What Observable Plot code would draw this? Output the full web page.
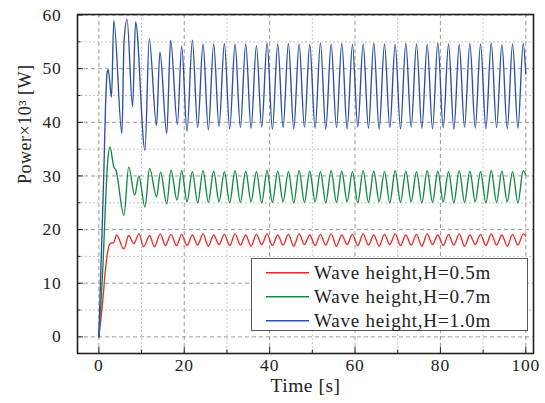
<!DOCTYPE html>
<html><head><meta charset="utf-8">
<script src="https://cdn.jsdelivr.net/npm/d3@7"></script>
<script src="https://cdn.jsdelivr.net/npm/@observablehq/plot@0.6"></script>
<style>
body{margin:0;background:#fff;}
#wrap{position:relative;width:545px;height:403px;font-family:"Liberation Serif",serif;}
#wrap svg text{font-family:"Liberation Serif",serif;}
#wrap svg g[aria-label="x-axis tick label"] text,
#wrap svg g[aria-label="y-axis tick label"] text{letter-spacing:0.8px;}
#wrap svg g[aria-label="text"] text{letter-spacing:0.5px;}
#legend{position:absolute;left:251px;top:258px;}
</style></head><body><div id="wrap"></div>
<script>
// ---------- data ----------
const seriesNames = ["Wave height,H=0.5m", "Wave height,H=0.7m", "Wave height,H=1.0m"];
const seriesColors = ["#ef2b2d", "#13893c", "#2d4fa6"];

const xMajorTicks = [0, 20, 40, 60, 80, 100];
const xMinorTicks = [10, 30, 50, 70, 90];
const yMajorTicks = [0, 10, 20, 30, 40, 50, 60];
const yMinorTicks = [5, 15, 25, 35, 45, 55];

// transient part [time, value]
const redStart = [[0,0],[0.5,3.5],[1.0,7.5],[1.57,12.8],[2.0,15.5],[2.6,17.4],[3.5,17.6],[4.15,19.0],[5.86,16.4],[7.0,18.9],[8.2,17.4],[9.4,19.2],[10.5,16.8],[11.9,18.9],[13.0,16.8],[14.4,19.2],[15.6,17.0],[16.9,19.1],[18.2,17.0]];
const greenStart = [[0,0],[1.0,14],[1.57,25.1],[1.96,31.4],[2.6,35.4],[3.5,31.7],[4.0,31.1],[5.86,22.65],[7.0,31.7],[8.4,26.4],[9.37,30.0],[10.8,24.2],[11.9,31.4],[13.5,26.1],[14.45,30.7],[15.9,24.8],[16.9,31.1],[18.3,25.5]];
const blueStart = [[0,0],[1.17,30.7],[1.57,43.2],[1.96,49.4],[2.2,49.8],[2.97,44.7],[3.5,59.0],[5.4,37.9],[5.9,55.0],[6.6,59.2],[7.9,42.9],[8.6,58.7],[10.8,34.8],[11.8,55.6],[13.5,39.4],[14.3,53.1],[15.9,37.9],[16.8,55.3],[18.4,39.6]];

// steady oscillation: peak and trough times
const peakTimes = [19.4,21.9,24.4,26.9,29.4,31.9,34.4,36.9,39.4,41.9,44.4,46.9,49.4,51.9,54.4,56.9,59.4,61.9,64.4,66.9,69.4,71.9,74.4,76.9,79.4,81.9,84.4,86.9,89.4,91.9,94.4,96.9,99.4];
const troughTimes = [20.65,23.15,25.65,28.15,30.65,33.15,35.65,38.15,40.65,43.15,45.65,48.15,50.65,53.15,55.65,58.15,60.65,63.15,65.65,68.15,70.65,73.15,75.65,78.15,80.65,83.15,85.65,88.15,90.65,93.15,95.65,98.15];

const redPeaks = [19.1,19.0,19.2,19.0,19.1,19.2,19.0,19.1,19.2,19.0,19.1,19.2,19.0,19.1,19.2,19.0,19.1,19.2,19.0,19.1,19.2,19.0,19.1,19.2,19.0,19.1,19.2,19.0,19.1,19.2,19.0,19.1,19.2];
const redTroughs = [17.0,17.1,16.9,17.2,17.0,17.1,16.9,17.2,17.0,17.1,16.9,17.2,17.0,17.1,16.9,17.2,17.0,17.1,16.9,17.2,17.0,17.1,16.9,17.2,17.0,17.1,16.9,17.2,17.0,17.1,16.9,17.1];
const greenPeaks = [31.0,30.8,31.0,30.9,30.8,31.0,30.9,30.8,31.0,30.9,30.8,31.0,30.9,30.8,31.0,30.9,30.8,31.0,30.9,30.8,31.0,30.9,30.8,31.0,30.9,30.8,31.0,30.9,30.8,31.0,30.9,30.8,31.0];
const greenTroughs = [25.2,25.0,25.1,25.2,25.0,25.1,25.2,25.0,25.1,25.2,25.0,25.1,25.2,25.0,25.1,25.2,25.0,25.1,25.2,25.0,25.1,25.2,25.0,25.1,25.2,25.0,25.1,25.2,25.0,25.1,25.2,25.0];
const bluePeaks = [54.2,55.3,54.6,54.6,54.7,54.6,54.6,54.3,54.8,54.6,54.7,54.6,54.5,54.8,54.6,54.7,54.5,54.6,54.8,54.6,54.5,54.7,54.6,54.5,54.8,54.6,54.5,54.7,54.6,54.8,54.5,54.6,54.7];
const blueTroughs = [38.3,39.0,38.6,39.2,38.8,39.0,38.9,39.1,38.7,39.0,38.8,39.1,38.9,38.7,39.0,38.8,39.1,38.9,38.7,39.0,38.8,39.1,38.9,38.8,39.0,38.7,39.1,38.9,38.8,39.0,38.8,38.9];

const redEnd = [100, 18.8];
const greenEnd = [100, 30.2];
const blueEnd = [100, 49.0];

// ---------- build table ----------
function buildSeries(name, start, peaks, troughs, end) {
  const pts = start.map(([t, v]) => ({t, v}));
  peaks.forEach((v, i) => pts.push({t: peakTimes[i], v}));
  troughs.forEach((v, i) => pts.push({t: troughTimes[i], v}));
  pts.push({t: end[0], v: end[1]});
  pts.sort((a, b) => a.t - b.t);
  return pts.map(p => ({...p, series: name}));
}
const data = [
  ...buildSeries(seriesNames[0], redStart, redPeaks, redTroughs, redEnd),
  ...buildSeries(seriesNames[1], greenStart, greenPeaks, greenTroughs, greenEnd),
  ...buildSeries(seriesNames[2], blueStart, bluePeaks, blueTroughs, blueEnd)
];

const font = "Liberation Serif";

const chart = Plot.plot({
  width: 545,
  height: 403,
  marginLeft: 77,
  marginRight: 12,
  marginTop: 14,
  marginBottom: 50,
  style: {background: "#fff", color: "#222"},
  x: {domain: [-5, 101.8]},
  y: {domain: [-3.1, 60.1]},
  color: {domain: seriesNames, range: seriesColors},
  marks: [
    Plot.gridY(yMinorTicks, {stroke: "#c8c8c8", strokeOpacity: 1, strokeDasharray: "2,2"}),
    Plot.gridX(xMinorTicks, {stroke: "#c8c8c8", strokeOpacity: 1, strokeDasharray: "2,2"}),
    Plot.gridY(yMajorTicks, {stroke: "#9a9a9a", strokeOpacity: 1, strokeDasharray: "4,3"}),
    Plot.gridX(xMajorTicks, {stroke: "#9a9a9a", strokeOpacity: 1, strokeDasharray: "4,3"}),
    Plot.line(data, {x: "t", y: "v", z: "series", stroke: "series", strokeWidth: 1.35, curve: "monotone-x"}),
    Plot.axisX(xMajorTicks, {tickSize: -6, text: null, label: null, stroke: "#222"}),
    Plot.axisX(xMinorTicks, {tickSize: -3.5, text: null, label: null, stroke: "#222"}),
    Plot.axisY(yMajorTicks, {tickSize: -6, text: null, label: null, stroke: "#222"}),
    Plot.axisY(yMinorTicks, {tickSize: -3.5, text: null, label: null, stroke: "#222"}),
    Plot.axisX(xMajorTicks, {tickSize: 0, tickPadding: 5, label: null, fontSize: 17.5, fontFamily: font, fill: "#222"}),
    Plot.axisY(yMajorTicks, {tickSize: 0, tickPadding: 16, label: null, fontSize: 17.5, fontFamily: font, fill: "#222"}),
    Plot.text(["Time [s]"], {frameAnchor: "bottom", dy: 38, fontSize: 19.5, fontFamily: font, fill: "#222"}),
    Plot.text(["Power×10³ [W]"], {frameAnchor: "left", dx: -52, rotate: -90, fontSize: 18, fontFamily: font, fill: "#222"}),
    Plot.frame({stroke: "#222", strokeWidth: 1.6})
  ]
});
const wrap = document.getElementById("wrap");
wrap.appendChild(chart);

// ---------- legend ----------
const lg = d3.select(wrap).append("svg").attr("id", "legend")
  .attr("width", 277).attr("height", 74);
lg.append("rect").attr("x", 0.5).attr("y", 0.5).attr("width", 276).attr("height", 72)
  .attr("fill", "#fff").attr("stroke", "#555").attr("stroke-width", 1);
seriesNames.forEach((name, i) => {
  const cy = 14.7 + i * 24;
  lg.append("line").attr("x1", 15).attr("x2", 58).attr("y1", cy).attr("y2", cy)
    .attr("stroke", seriesColors[i]).attr("stroke-width", 1.4);
  lg.append("text").attr("x", 63).attr("y", cy).attr("dy", "0.35em")
    .attr("font-family", font).attr("font-size", 19).attr("fill", "#222")
    .attr("letter-spacing", "0.8px").text(name);
});
</script></body></html>
